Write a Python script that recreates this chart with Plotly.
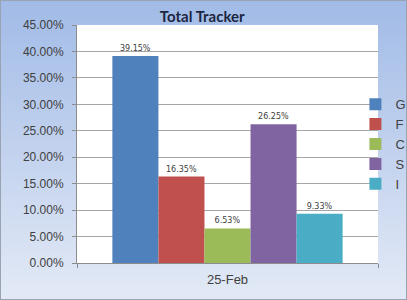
import base64
import plotly.graph_objects as go

categories = ["25-Feb"]
series_names = ["G", "F", "C", "S", "I"]
series_values = [39.15, 16.35, 6.53, 26.25, 9.33]
series_colors = ["#4f81bd", "#c0504d", "#9bbb59", "#8064a2", "#4bacc6"]
y_ticks = [0, 5, 10, 15, 20, 25, 30, 35, 40, 45]
y_tick_labels = [f"{v:.2f}%" for v in y_ticks]

W, H = 407, 300
ML, MR, MT, MB = 77, 29, 25, 37
PW, PH = W - ML - MR, H - MT - MB

svg = f'''<svg xmlns="http://www.w3.org/2000/svg" width="{W}" height="{H}" viewBox="0 0 {W} {H}" preserveAspectRatio="none">
<defs><linearGradient id="g" x1="0" y1="0" x2="0" y2="1">
<stop offset="0" stop-color="#a1bbe7"/>
<stop offset="0.5" stop-color="#c2d2ee"/>
<stop offset="1" stop-color="#e3eaf6"/>
</linearGradient></defs>
<rect x="0" y="0" width="{W}" height="{H}" fill="url(#g)"/>
<rect x="{ML}" y="{MT}" width="{PW}" height="{PH}" fill="#ffffff"/>
<rect x="0.5" y="0.5" width="{W-1}" height="{H-1}" fill="none" stroke="#9aa3b3" stroke-width="1"/>
</svg>'''
src = "data:image/svg+xml;base64," + base64.b64encode(svg.encode()).decode()

FONT = "Liberation Sans, Arial"

fig = go.Figure()
for name, val, col in zip(series_names, series_values, series_colors):
    fig.add_trace(go.Bar(
        name=name, x=categories, y=[val],
        marker=dict(color=col, line=dict(width=0)),
        text=[f"{val:.2f}%"], textposition="outside",
        textfont=dict(size=8, color="#404040", family="DejaVu Sans"),
        cliponaxis=False,
    ))

fig.update_layout(
    width=W, height=H,
    margin=dict(l=ML, r=MR, t=MT, b=MB, autoexpand=False),
    paper_bgcolor="#e3eaf6", plot_bgcolor="white",
    barmode="group", bargap=0.235, bargroupgap=0,
    font=dict(family=FONT, size=12, color="#404040"),
    title=dict(text="<b>Total Tracker</b>", x=0.497, xanchor="center",
               y=1 - 17 / H, yanchor="middle",
               font=dict(size=15, color="#1c2640", family="Lato")),
    showlegend=True,
    legend=dict(x=0.925, xanchor="left", y=0.73, yanchor="top",
                bgcolor="rgba(0,0,0,0)", font=dict(size=13, color="#404040", family=FONT),
                itemwidth=30, tracegroupgap=0),
    images=[dict(source=src, xref="paper", yref="paper",
                 x=-ML / PW, y=1 + MT / PH, sizex=W / PW, sizey=H / PH,
                 xanchor="left", yanchor="top", sizing="stretch", layer="below")],
    xaxis=dict(showline=True, linecolor="#8c8c8c", linewidth=1,
               ticks="outside", tickson="boundaries", ticklen=4, tickcolor="#8c8c8c",
               ticklabelstandoff=4,
               tickfont=dict(size=13, color="#404040")),
    yaxis=dict(range=[0, 45], tickvals=y_ticks, ticktext=y_tick_labels,
               showline=True, linecolor="#8c8c8c", linewidth=1,
               ticks="outside", ticklen=4, tickcolor="#8c8c8c", ticklabelstandoff=6,
               showgrid=True, gridcolor="#a6a6a6", gridwidth=1,
               zeroline=False, tickfont=dict(size=12, color="#404040")),
)

fig.write_html("out.html")
